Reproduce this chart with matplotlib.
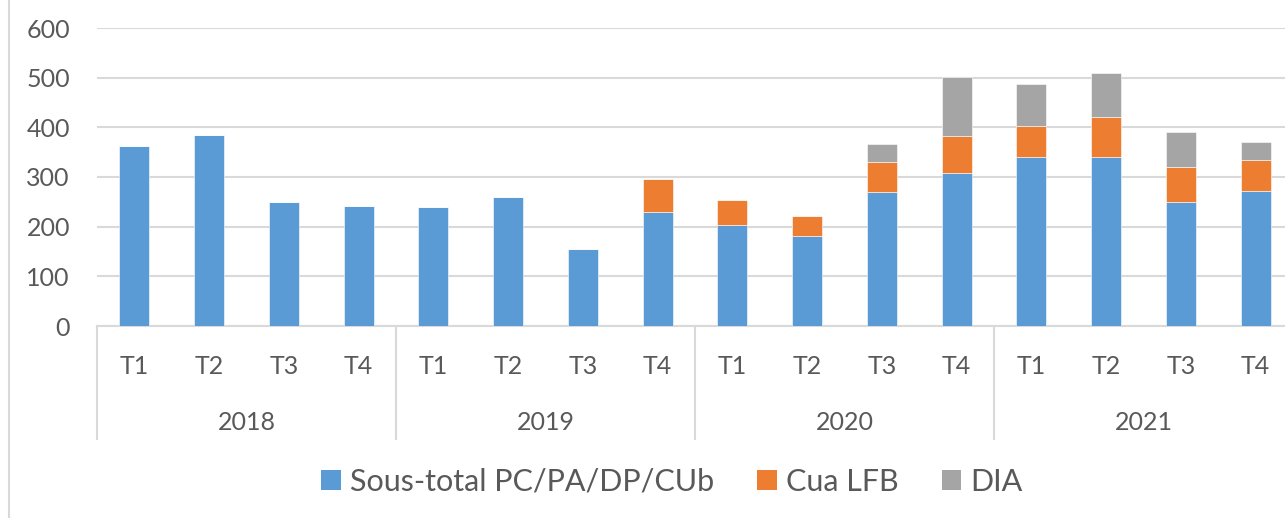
import matplotlib
matplotlib.use("Agg")
import matplotlib.pyplot as plt
from matplotlib.lines import Line2D
from matplotlib.patches import Patch
import numpy as np

years = ["2018", "2019", "2020", "2021"]
quarters = ["T1", "T2", "T3", "T4"]
series_names = ["Sous-total PC/PA/DP/CUb", "Cua LFB", "DIA"]
sous_total = [363, 384, 249, 241, 240, 260, 156, 229, 204, 181, 269, 309, 341, 341, 249, 271]
cua_lfb = [0, 0, 0, 0, 0, 0, 0, 67, 49, 41, 62, 74, 62, 79, 71, 63]
dia = [0, 0, 0, 0, 0, 0, 0, 0, 0, 0, 35, 119, 85, 90, 71, 36]
yticks = [0, 100, 200, 300, 400, 500, 600]

colors = ["#5B9BD5", "#ED7D31", "#A5A5A5"]
text_color = "#595959"
grid_color = "#D9D9D9"

plt.rcParams['font.family'] = ['Lato', 'DejaVu Sans']

W, H = 1285, 518
fig = plt.figure(figsize=(W / 100, H / 100), dpi=100)
x0, x1 = 97, 1293
y0, y1 = 326, 28
ax = fig.add_axes([x0 / W, 1 - y0 / H, (x1 - x0) / W, (y0 - y1) / H])

n = len(sous_total)
x = np.arange(n)
bw = 0.40
s1 = np.array(sous_total)
s2 = np.array(cua_lfb)
s3 = np.array(dia)
ax.bar(x, s1, bw, color=colors[0], edgecolor="white", linewidth=0.4, zorder=3)
ax.bar(x, s2, bw, bottom=s1, color=colors[1], edgecolor="white", linewidth=0.4, zorder=3)
ax.bar(x, s3, bw, bottom=s1 + s2, color=colors[2], edgecolor="white", linewidth=0.4, zorder=3)

ax.set_xlim(-0.5, n - 0.5)
ax.set_ylim(0, 600)
ax.set_yticks(yticks)
ax.set_yticklabels([str(v) for v in yticks], fontsize=18, color=text_color)
ax.tick_params(axis="y", length=0, pad=19.5)
ax.set_xticks([])
ax.grid(axis="y", color=grid_color, linewidth=1.5, zorder=0)
for s in ["top", "right", "left"]:
    ax.spines[s].set_visible(False)
ax.spines["bottom"].set_color(grid_color)
ax.spines["bottom"].set_linewidth(1.5)
ax.set_axisbelow(True)

# category labels
trans = ax.get_xaxis_transform()
t_y = -(366 - y0) / (y0 - y1)
yr_y = -(422 - y0) / (y0 - y1)
sep_bot = -(439 - y0) / (y0 - y1)
for i in range(n):
    ax.text(x[i], t_y, quarters[i % 4], transform=trans, ha="center", va="center",
            fontsize=18, color=text_color)
for j, yr in enumerate(years):
    ax.text(4 * j + 1.5, yr_y, yr, transform=trans, ha="center", va="center",
            fontsize=18, color=text_color)
for j in range(len(years) + 1):
    xs = 4 * j - 0.5
    ax.add_line(Line2D([xs, xs], [0, sep_bot], transform=trans, color=grid_color,
                       linewidth=1.5, clip_on=False))

# left border of chart
fig.add_artist(Line2D([8.5 / W, 8.5 / W], [0, 1], transform=fig.transFigure,
                      color=grid_color, linewidth=1.5))

handles = [Patch(facecolor=c, edgecolor="none") for c in colors]
fig.legend(handles, series_names, loc="center", bbox_to_anchor=(672 / W, 1 - 482 / H),
           ncol=3, frameon=False, fontsize=22, labelcolor=text_color,
           handlelength=0.65, handleheight=0.65, handletextpad=0.3, columnspacing=1.4)

fig.savefig("out.png", dpi=100, facecolor="white")
